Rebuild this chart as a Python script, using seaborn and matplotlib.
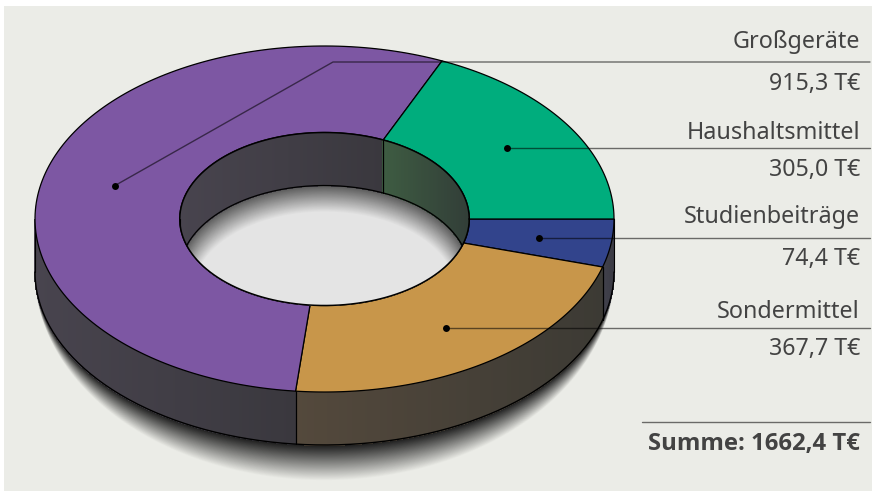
import numpy as np
import seaborn as sns
import matplotlib.pyplot as plt
from matplotlib.patches import Polygon, Rectangle

# values in T€, listed in the order of the labels on the right
categories = ["Großgeräte", "Haushaltsmittel", "Studienbeiträge", "Sondermittel"]
values = [915.3, 305.0, 74.4, 367.7]
value_labels = ["915,3 T€", "305,0 T€", "74,4 T€", "367,7 T€"]
total_label = "Summe: 1662,4 T€"

# clockwise draw order starting at 3 o'clock
draw_order = [2, 3, 0, 1]
top_colors = ["#7d57a3", "#00ad7d", "#32448c", "#c8964a"]
wall_left = ["#48444e", "#3e5c42", "#41414b", "#54493c"]
wall_right = ["#3a383e", "#323e38", "#3a3a44", "#3c3a34"]

BG = np.array([235, 236, 231]) / 255
FLOOR = np.array([228, 228, 228]) / 255
CX, CY, RX, RY = 324.5, 219.0, 289.5, 173.0
HOLE = 0.5
DEPTH = 53
TEXT_RIGHT = 860
LINE_RIGHT = 870
LABEL_RULES = [62, 148, 238, 328]
NAME_BASE = [48, 139, 223, 318]
VALUE_BASE = [90, 176, 265, 355]

sns.set_theme(style="white")
plt.rcParams["font.family"] = ["Noto Sans", "DejaVu Sans"]

fig = plt.figure(figsize=(8.72, 4.92), dpi=100, facecolor="white")
ax = fig.add_axes([0, 0, 1, 1])
ax.set_xlim(0, 872)
ax.set_ylim(492, 0)
ax.axis("off")
ax.add_patch(Rectangle((4, 6), 868, 485, fc=BG, ec="none", zorder=0))


def ring_xy(deg, r=1.0, dy=0.0):
    a = np.radians(deg)
    return CX + RX * r * np.cos(a), CY + RY * r * np.sin(a) + dy


def arc(a0, a1, r=1.0, dy=0.0, n=160):
    x, y = ring_xy(np.linspace(a0, a1, n), r, dy)
    return np.column_stack([x, y])


def hex_rgb(c):
    return np.array(sns.color_palette([c])[0])


# angles of each slice from the values
shares = np.array(values)[draw_order] / np.sum(values) * 360
edges = np.concatenate([[0], np.cumsum(shares)])
spans = {idx: (edges[i], edges[i + 1]) for i, idx in enumerate(draw_order)}

# soft shadow under the ring
th = np.linspace(0, 2 * np.pi, 300)
for t in np.linspace(0, 1, 40):
    shade = t * 0.1 + (1 - t) * BG
    ry = 173 + 36 * (1 - t)
    pts = np.column_stack([CX + RX * np.cos(th), CY + DEPTH + ry * np.sin(th)])
    ax.add_patch(Polygon(pts, fc=shade, ec="none", zorder=1))


def wall(a0, a1, idx, r, clip=None, z=2):
    # narrow vertical strips give the left to right gradient
    ca, cb = hex_rgb(wall_left[idx]), hex_rgb(wall_right[idx])
    steps = max(int(abs(a1 - a0) * 2), 2)
    angles = np.linspace(a0, a1, steps + 1)
    xs = ring_xy(angles, r)[0]
    lo, hi = xs.min(), xs.max()
    for a, b, xa in zip(angles[:-1], angles[1:], xs[:-1]):
        top = arc(a, b, r, 0, 4)
        low = arc(b, a, r, DEPTH, 4)
        f = (xa - lo) / (hi - lo)
        col = tuple(ca * (1 - f) + cb * f)
        p = Polygon(np.vstack([top, low]), fc=col, ec=col, lw=0.6, zorder=z, antialiased=False)
        ax.add_patch(p)
        if clip is not None:
            p.set_clip_path(clip)


# outer wall, front half only
for idx, (a0, a1) in spans.items():
    a0c, a1c = max(a0, 0), min(a1, 180)
    if a1c > a0c:
        wall(a0c, a1c, idx, 1.0)
        for a in (a0c, a1c):
            x, y = ring_xy(a)
            ax.plot([x, x], [y, y + DEPTH], color="black", lw=0.8, zorder=3)
ax.plot(*arc(0, 180, 1.0, DEPTH).T, color="black", lw=1.0, zorder=3)

# slices on top
for idx, (a0, a1) in spans.items():
    pts = np.vstack([arc(a0, a1, 1.0), arc(a1, a0, HOLE)])
    ax.add_patch(Polygon(pts, fc=top_colors[idx], ec="black", lw=0.9, zorder=4, joinstyle="round"))

# hole: floor, shadow on the floor and the inner wall behind it
hole_pts = arc(0, 360, HOLE, 0, 300)
hole = Polygon(hole_pts, fc=FLOOR, ec="none", zorder=5)
ax.add_patch(hole)
for t in np.linspace(0, 1, 30):
    shade = (1 - t) * 0.36 + t * FLOOR
    pts = np.column_stack([CX + RX * HOLE * (1 - 0.09 * t) * np.cos(th),
                           CY + DEPTH + 20 * t + RY * HOLE * (1 - 0.07 * t) * np.sin(th)])
    p = Polygon(pts, fc=shade, ec="none", zorder=5.1)
    ax.add_patch(p)
    p.set_clip_path(hole)

for idx, (a0, a1) in spans.items():
    a0c, a1c = max(a0, 180), min(a1, 360)
    if a1c > a0c:
        wall(a0c, a1c, idx, HOLE, clip=hole, z=5.5)
        for a in (a0c, a1c):
            x, y = ring_xy(a, HOLE)
            seam, = ax.plot([x, x], [y, y + DEPTH], color="black", lw=0.8, zorder=5.6)
            seam.set_clip_path(hole)
floor_edge, = ax.plot(*arc(180, 360, HOLE, DEPTH).T, color="black", lw=0.9, zorder=5.6)
floor_edge.set_clip_path(hole)
ax.plot(*hole_pts.T, color="black", lw=1.1, zorder=5.7)

# leader lines and labels
line_col = (0, 0, 0, 0.55)
text_col = "#434343"
for i, name in enumerate(categories):
    a0, a1 = spans[i]
    px, py = ring_xy((a0 + a1) / 2, 0.75)
    rule = LABEL_RULES[i]
    if abs(py - rule) > 5:
        # the big slice's anchor sits far below its rule, so the leader bends
        ax.plot([px, 333, LINE_RIGHT], [py, rule, rule], color=line_col, lw=1.0, zorder=6)
        dot_y = py
    else:
        ax.plot([px, LINE_RIGHT], [rule, rule], color=line_col, lw=1.0, zorder=6)
        dot_y = rule
    ax.plot(px, dot_y, "o", color="black", ms=5, mew=0, zorder=7)
    ax.text(TEXT_RIGHT, NAME_BASE[i], name, ha="right", va="baseline", fontsize=16.8, color=text_col, zorder=8)
    ax.text(TEXT_RIGHT, VALUE_BASE[i], value_labels[i], ha="right", va="baseline", fontsize=16.7, color=text_col, zorder=8)

ax.plot([642, LINE_RIGHT], [422, 422], color=line_col, lw=1.0, zorder=6)
ax.text(TEXT_RIGHT, 450, total_label, ha="right", va="baseline", fontsize=17.2, fontweight="bold",
        family=["Open Sans", "DejaVu Sans"], color=text_col, zorder=8)

fig.savefig("out.png", dpi=100, facecolor="white")
